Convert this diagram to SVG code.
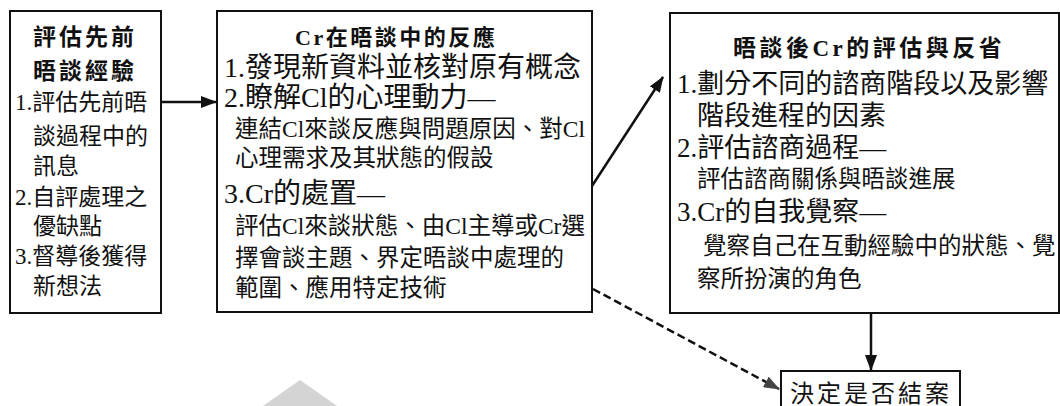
<svg xmlns="http://www.w3.org/2000/svg" width="1060" height="406" viewBox="0 0 1060 406">
<defs>
<style>
.box{fill:#fff;stroke:#111;stroke-width:2}
.t{font-family:"Liberation Serif","Noto Sans CJK TC",serif;fill:#111}
.ttl{font-family:"Liberation Serif","Noto Sans CJK TC",serif;font-weight:bold;fill:#111}
.con{stroke:#111;stroke-width:2.5;fill:none}
.dash{stroke:#111;stroke-width:2.5;fill:none;stroke-dasharray:8 4}
</style>
<marker id="ah" viewBox="0 0 16 12" refX="15" refY="6" markerWidth="16" markerHeight="12" markerUnits="userSpaceOnUse" orient="auto">
<path d="M0,0 L16,6 L0,12 Z" fill="#111"/>
</marker>
<marker id="ahg" viewBox="0 0 16 12" refX="15" refY="6" markerWidth="16" markerHeight="12" markerUnits="userSpaceOnUse" orient="auto">
<path d="M0,0 L16,6 L0,12 Z" fill="#444"/>
</marker>
</defs>
<rect width="1060" height="406" fill="#fff"/>
<polygon points="263,406 300,380 337,406" fill="#d4d4d4"/>
<g id="connectors">
<line class="con" x1="161" y1="102" x2="216" y2="102" marker-end="url(#ah)"/>
<line class="con" x1="592" y1="186" x2="663" y2="77" marker-end="url(#ah)"/>
<line class="dash" x1="593" y1="289" x2="779" y2="389" marker-end="url(#ahg)"/>
<line class="con" x1="871" y1="314" x2="871" y2="370" marker-end="url(#ah)"/>
</g>
<g id="node-prior">
<rect class="box" x="10" y="11" width="151" height="302"/>
<text class="ttl" x="33" y="45" font-size="23" letter-spacing="3">評估先前</text>
<text class="ttl" x="33" y="79" font-size="23" letter-spacing="3">晤談經驗</text>
<g class="t" font-size="23">
<text x="15" y="110">1.評估先前晤</text>
<text x="33" y="144">談過程中的</text>
<text x="33" y="174">訊息</text>
<text x="15" y="205">2.自評處理之</text>
<text x="33" y="234">優缺點</text>
<text x="15" y="264">3.督導後獲得</text>
<text x="33" y="294">新想法</text>
</g>
</g>
<g id="node-during">
<rect class="box" x="217" y="11" width="375" height="301"/>
<text class="ttl" x="295" y="45" font-size="22" letter-spacing="2.5">Cr在晤談中的反應</text>
<g class="t">
<text x="224" y="77" font-size="28">1.發現新資料並核對原有概念</text>
<text x="224" y="107" font-size="28">2.瞭解Cl的心理動力—</text>
<text x="235" y="137" font-size="23.5">連結Cl來談反應與問題原因、對Cl</text>
<text x="235" y="166" font-size="23.5">心理需求及其狀態的假設</text>
<text x="224" y="203" font-size="28">3.Cr的處置—</text>
<text x="235" y="234" font-size="23.5">評估Cl來談狀態、由Cl主導或Cr選</text>
<text x="235" y="266" font-size="23.5">擇會談主題、界定晤談中處理的</text>
<text x="235" y="296" font-size="23.5">範圍、應用特定技術</text>
</g>
</g>
<g id="node-after">
<rect class="box" x="670" y="13" width="389" height="300"/>
<text class="ttl" x="733" y="56" font-size="23" letter-spacing="3.5">晤談後Cr的評估與反省</text>
<g class="t">
<text x="677" y="93" font-size="27">1.劃分不同的諮商階段以及影響</text>
<text x="697" y="125" font-size="27">階段進程的因素</text>
<text x="677" y="157" font-size="27">2.評估諮商過程—</text>
<text x="697" y="187" font-size="23.5">評估諮商關係與晤談進展</text>
<text x="677" y="221" font-size="27">3.Cr的自我覺察—</text>
<text x="703" y="254" font-size="23.5">覺察自己在互動經驗中的狀態、覺</text>
<text x="697" y="287" font-size="23.5">察所扮演的角色</text>
</g>
</g>
<g id="node-decide">
<rect class="box" x="781" y="371" width="179" height="45"/>
<text class="t" x="790" y="402" font-size="24" letter-spacing="3">決定是否結案</text>
</g>
</svg>
